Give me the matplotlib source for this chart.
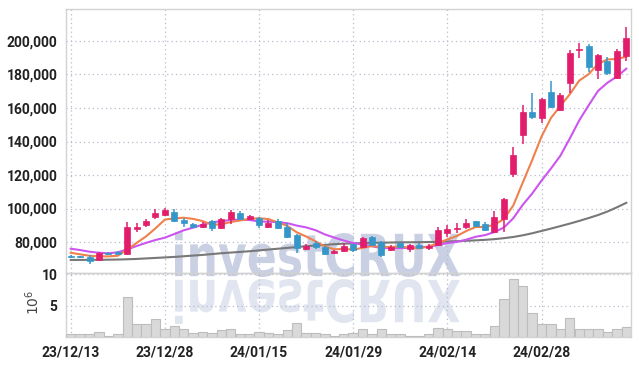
import matplotlib
matplotlib.use('Agg')
import matplotlib.pyplot as plt
import numpy as np
from matplotlib.ticker import FuncFormatter
from matplotlib.textpath import TextPath
from matplotlib.patches import PathPatch
from matplotlib.font_manager import FontProperties
from matplotlib.transforms import Affine2D

# trading days (KRX), 23/12/13 .. 24/03/13
dates = ['23/12/13', '23/12/14', '23/12/15', '23/12/18', '23/12/19', '23/12/20', '23/12/21',
         '23/12/22', '23/12/26', '23/12/27', '23/12/28',
         '24/01/02', '24/01/03', '24/01/04', '24/01/05', '24/01/08', '24/01/09', '24/01/10',
         '24/01/11', '24/01/12', '24/01/15',
         '24/01/16', '24/01/17', '24/01/18', '24/01/19', '24/01/22', '24/01/23', '24/01/24',
         '24/01/25', '24/01/26', '24/01/29',
         '24/01/30', '24/01/31', '24/02/01', '24/02/02', '24/02/05', '24/02/06', '24/02/07',
         '24/02/08', '24/02/13', '24/02/14',
         '24/02/15', '24/02/16', '24/02/19', '24/02/20', '24/02/21', '24/02/22', '24/02/23',
         '24/02/26', '24/02/27', '24/02/28',
         '24/02/29', '24/03/04', '24/03/05', '24/03/06', '24/03/07', '24/03/08', '24/03/11',
         '24/03/12', '24/03/13']

opens = np.array([71600, 71400, 71000, 69400, 73300, 74000, 72700, 87500, 90300, 95100,
                  96100, 98100, 93100, 90600, 89100, 92500, 88500, 93700, 97500, 93700,
                  94500, 88800, 92500, 89100, 84200, 75600, 79600, 77200, 73400, 74800,
                  78600, 76800, 82800, 80200, 75200, 79600, 75600, 78200, 76200, 78200,
                  85200, 87800, 88800, 92500, 90700, 86100, 93600, 120400, 143600, 157800,
                  153900, 169400, 158800, 175100, 194500, 197000, 182400, 188200, 178100, 191300])
highs = np.array([72200, 71900, 72000, 73800, 74000, 74600, 91800, 91300, 93700, 99700,
                  100500, 99700, 94500, 91500, 92000, 93000, 94500, 99100, 98500, 96000,
                  95000, 93100, 93700, 91200, 84600, 79000, 80800, 77800, 75500, 79400,
                  79000, 83200, 83500, 80500, 78000, 80200, 78800, 79300, 79000, 88800,
                  90100, 91100, 93700, 92600, 92000, 98700, 106000, 136800, 162000, 168800,
                  166000, 176100, 169000, 194600, 198600, 198000, 192500, 190500, 195300, 208200])
lows = np.array([70500, 70500, 67000, 69000, 72500, 72600, 72400, 86100, 89100, 93700,
                 95700, 91800, 88800, 88200, 88500, 86600, 88000, 90600, 93200, 93200,
                 88200, 88500, 88000, 82200, 73300, 75000, 75800, 72300, 72800, 74000,
                 74000, 76500, 78000, 71200, 74600, 76200, 74300, 76300, 75000, 77600,
                 82900, 85200, 87800, 89400, 86600, 85500, 86200, 118800, 138500, 153300,
                 150900, 159800, 158000, 168800, 189700, 181700, 177300, 179500, 177500, 188100])
closes = np.array([71000, 70900, 68800, 73400, 73000, 72900, 89000, 89100, 92700, 97100,
                   99100, 92500, 91200, 89100, 90600, 88200, 93700, 98100, 93700, 95300,
                   90100, 91300, 88200, 83200, 76200, 77600, 76800, 72800, 74800, 77600,
                   75200, 82200, 78200, 72200, 77200, 76800, 78200, 76600, 77800, 87200,
                   87800, 88500, 91500, 89700, 87200, 94700, 105500, 132000, 157600, 154400,
                   165400, 160800, 167800, 192700, 195000, 184700, 191700, 180900, 194000, 201600])

# volume, millions of shares
volume = np.array([0.5, 0.55, 0.55, 0.85, 0.2, 0.4, 6.45, 2.0, 2.15, 2.8,
                   1.35, 1.8, 1.2, 0.7, 0.85, 0.65, 1.05, 1.2, 0.55, 0.4,
                   0.8, 0.65, 0.55, 1.05, 2.3, 0.65, 0.7, 0.55, 0.2, 0.55,
                   0.7, 1.2, 0.55, 1.35, 0.55, 0.55, 0.2, 0.2, 0.4, 1.5,
                   1.2, 1.0, 1.0, 0.4, 0.4, 1.8, 6.0, 9.25, 8.2, 3.9,
                   2.0, 2.15, 1.35, 3.1, 1.35, 1.35, 1.35, 0.85, 1.35, 1.65])

ma5 = [73600, 72650, 71800, 71450, 71420, 71800, 75420, 79480, 83340, 88160,
       93400, 94100, 94520, 93800, 92500, 90320, 90560, 91940, 92860, 93800,
       94180, 93700, 91720, 89620, 85800, 83300, 80400, 77320, 75640, 75920,
       75440, 76520, 77600, 77080, 77000, 77320, 76520, 76200, 77320, 79320,
       81520, 83580, 86560, 88940, 88940, 90320, 93720, 101820, 115400, 128840,
       142980, 154040, 161200, 168220, 176340, 180200, 186380, 189000, 189260, 190580]
ma10 = [76000, 75200, 74200, 73600, 73250, 73850, 75600, 77600, 79500, 81200,
        82600, 84760, 87000, 88570, 90330, 91860, 92330, 93230, 93330, 93150,
        92250, 92130, 91830, 91240, 89800, 88740, 87050, 84520, 82630, 80860,
        79370, 78460, 77460, 76360, 76460, 76380, 76520, 76900, 77200, 78160,
        79420, 80050, 81380, 83130, 84130, 85920, 88650, 94190, 102170, 108890,
        116650, 123880, 131510, 141810, 152590, 161590, 170210, 175100, 178740, 183460]
ma60 = [69300, 69300, 69350, 69400, 69450, 69550, 69700, 69900, 70200, 70500,
        70800, 71100, 71500, 71900, 72300, 72800, 73300, 73700, 74100, 74500,
        75000, 75500, 76000, 76500, 77000, 77500, 77900, 78300, 78700, 79000,
        79200, 79400, 79500, 79600, 79700, 79800, 79850, 79900, 80000, 80100,
        80300, 80500, 80700, 81000, 81300, 81700, 82300, 83000, 84000, 85200,
        86600, 88000, 89500, 91000, 92600, 94300, 96100, 98200, 100700, 103400]

RED = '#e21d6c'
BLUE = '#3597c9'
GRID = '#b7bccd'
TXT = '#222222'
lbl_font = ['Roboto', 'DejaVu Sans']

W, H = 639, 366
fig = plt.figure(figsize=(W / 100, H / 100), dpi=100)
fig.patch.set_facecolor('white')

# axes boxes in pixels
L, R = 66, 631
ax = fig.add_axes([L / W, (H - 272.5) / H, (R - L) / W, 263.5 / H])
axv = fig.add_axes([L / W, (H - 337) / H, (R - L) / W, 64.5 / H], sharex=ax)
for a in (ax, axv):
    a.set_facecolor('none')
    for s in a.spines.values():
        s.set_color('#d2d2d2')
        s.set_linewidth(1.0)

x = np.arange(len(closes))
up = closes >= opens
cols = np.where(up, RED, BLUE)

ax.plot(x, ma60, color='#787878', lw=1.5, zorder=2)
ax.plot(x, ma10, color='#cc55ee', lw=1.5, zorder=2)
ax.plot(x, ma5, color='#f0804c', lw=1.5, zorder=2)
ax.vlines(x, lows, highs, colors=cols, lw=1.1, zorder=3)
body = np.maximum(np.abs(closes - opens), 300)
ax.bar(x, body, bottom=np.minimum(opens, closes), width=0.64, color=cols,
       edgecolor=cols, lw=0.5, zorder=4)

ax.set_xlim(-0.5, len(x) - 0.5)
ax.set_ylim(61800, 219100)
ax.set_yticks(np.arange(80000, 200001, 20000))
ax.yaxis.set_major_formatter(FuncFormatter(lambda v, p: f'{v:,.0f}'))
ax.grid(True, ls=(0, (1, 2.5)), color=GRID, lw=0.9)
ax.set_axisbelow(True)
ax.tick_params(length=0, pad=6, labelbottom=False, labelsize=10, colors=TXT)

axv.bar(x, volume, width=1.0, color='#d9d9d9', edgecolor='#bdbdbd', lw=0.8, zorder=3)
axv.set_ylim(0, 10.3)
axv.set_yticks([5, 10])
axv.set_yticklabels(['5', '10'])
tick_idx = list(range(0, len(x), 10))
axv.set_xticks(tick_idx)
axv.set_xticklabels([dates[i] for i in tick_idx])
axv.grid(True, ls=(0, (1, 2.5)), color=GRID, lw=0.9)
axv.set_axisbelow(True)
axv.tick_params(length=0, pad=6, labelsize=10, colors=TXT)

for lab in ax.get_yticklabels() + axv.get_yticklabels() + axv.get_xticklabels():
    lab.set_family(lbl_font)
    lab.set_fontweight('bold')

fig.text(33 / W, (H - 302) / H, r'$10^6$', rotation=90, ha='center', va='center',
         fontsize=10, color='#444444')

# watermark with reflection
fp = FontProperties(family='DejaVu Sans', weight='bold')
tp = TextPath((0, 0), 'investCRUX', size=10, prop=fp)
ext = tp.get_extents()
sx, sy = 285 / ext.width, 45 / ext.height
tr_top = Affine2D().translate(-ext.x0, -ext.y0).scale(sx, sy).translate(175, H - 277)
tr_bot = Affine2D().translate(-ext.x0, -ext.y0).scale(sx, -sy).translate(175, H - 279)
fig.add_artist(PathPatch(tp, transform=tr_top, facecolor='#cad0e3', edgecolor='none', zorder=-1))
fig.add_artist(PathPatch(tp, transform=tr_bot, facecolor='#e1e5ef', edgecolor='none', zorder=-1))

fig.savefig('out.png', dpi=100)
